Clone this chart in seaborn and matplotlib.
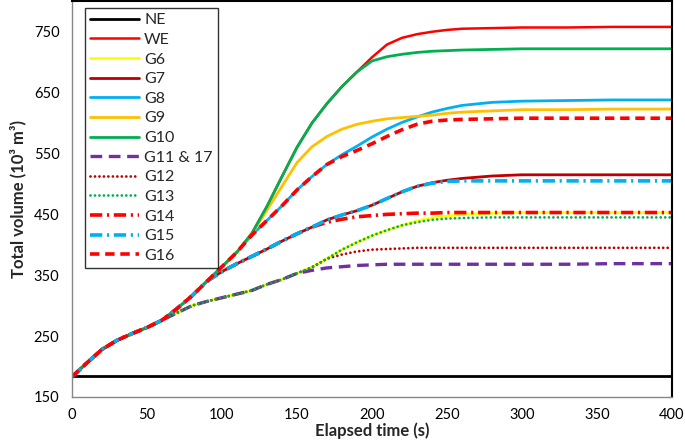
import matplotlib
matplotlib.use("Agg")
import matplotlib.pyplot as plt
from matplotlib.ticker import MultipleLocator, FixedLocator
import seaborn as sns

# elapsed time grid (s)
time_s = [0, 10, 20, 30, 40, 50, 60, 70, 80, 90, 100, 110, 120, 130, 140, 150,
          160, 170, 180, 190, 200, 210, 220, 230, 240, 250, 260, 280, 300, 330, 360, 400]

# total volume (10^3 m^3)
ne = [184, 184, 184, 184, 184, 184, 184, 184, 184, 184, 184, 184, 184, 184, 184, 184,
      184, 184, 184, 184, 184, 184, 184, 184, 184, 184, 184, 184, 184, 184, 184, 184]
we = [183, 206, 228, 243, 254, 264, 276, 295, 316, 340, 364, 388, 419, 463, 512, 560,
      600, 632, 660, 684, 708, 729, 740, 746, 750, 753, 755, 756, 757, 757, 758, 758]
g6 = [183, 206, 228, 243, 254, 264, 276, 288, 300, 307, 313, 319, 325, 335, 343, 353,
      363, 377, 392, 404, 415, 424, 432, 439, 444, 447, 450, 452, 453, 453, 453, 453]
g7 = [183, 206, 228, 243, 254, 264, 276, 295, 316, 340, 356, 369, 381, 393, 406, 418,
      429, 441, 449, 456, 465, 476, 487, 496, 502, 506, 509, 513, 515, 515, 515, 515]
g8 = [183, 206, 228, 243, 254, 264, 276, 295, 316, 340, 364, 388, 416, 440, 464, 490,
      512, 532, 548, 562, 577, 590, 601, 610, 618, 624, 629, 634, 636, 637, 638, 638]
g9 = [183, 206, 228, 243, 254, 264, 276, 295, 316, 340, 364, 388, 418, 457, 496, 535,
      561, 578, 590, 598, 603, 607, 609, 611, 613, 616, 618, 620, 622, 622, 623, 623]
g10 = [183, 206, 228, 243, 254, 264, 276, 295, 316, 340, 364, 388, 419, 463, 512, 560,
       600, 632, 660, 684, 702, 709, 713, 716, 718, 719, 720, 721, 722, 722, 722, 722]
g11 = [183, 206, 228, 243, 254, 264, 276, 288, 300, 307, 313, 319, 325, 335, 343, 353,
       358, 362, 364, 366, 367, 368, 368, 368, 368, 368, 368, 368, 368, 368, 369, 369]
g12 = [183, 206, 228, 243, 254, 264, 276, 288, 300, 307, 313, 319, 325, 335, 343, 353,
       363, 377, 384, 389, 392, 393, 394, 395, 395, 395, 395, 395, 395, 395, 395, 395]
g13 = [183, 206, 228, 243, 254, 264, 276, 288, 300, 307, 313, 319, 325, 335, 343, 353,
       363, 377, 392, 404, 415, 424, 432, 437, 441, 443, 444, 445, 445, 445, 445, 445]
g14 = [183, 206, 228, 243, 254, 264, 276, 295, 316, 340, 356, 369, 381, 393, 406, 418,
       429, 437, 442, 446, 448, 450, 451, 452, 452, 453, 453, 453, 453, 453, 453, 453]
g15 = [183, 206, 228, 243, 254, 264, 276, 295, 316, 340, 356, 369, 381, 393, 406, 418,
       429, 441, 449, 456, 465, 476, 487, 496, 501, 504, 505, 505, 505, 505, 505, 505]
g16 = [183, 206, 228, 243, 254, 264, 276, 295, 316, 340, 364, 388, 416, 440, 464, 490,
       512, 532, 545, 555, 566, 578, 589, 598, 603, 605, 606, 607, 608, 608, 608, 608]

series_names = ["NE", "WE", "G6", "G7", "G8", "G9", "G10", "G11 & 17",
                "G12", "G13", "G14", "G15", "G16"]
series_values = [ne, we, g6, g7, g8, g9, g10, g11, g12, g13, g14, g15, g16]

# colour, width (pt), dash pattern (None = solid), cap style
styles = {
    "NE": ("#000000", 2.0, None, "butt"),
    "WE": ("#ff0000", 1.8, None, "butt"),
    "G6": ("#ffff00", 2.0, None, "butt"),
    "G7": ("#c00000", 2.0, None, "butt"),
    "G8": ("#00b0f0", 2.0, None, "butt"),
    "G9": ("#ffc000", 2.0, None, "butt"),
    "G10": ("#00b050", 2.0, None, "butt"),
    "G11 & 17": ("#7030a0", 2.4, (3.5, 2.0), "butt"),
    "G12": ("#c00000", 2.0, (0.01, 1.6), "round"),
    "G13": ("#00b050", 2.0, (0.01, 1.6), "round"),
    "G14": ("#ff0000", 2.6, (3.4, 1.3, 0.6, 1.3), "butt"),
    "G15": ("#00b0f0", 2.6, (3.4, 1.3, 0.6, 1.3), "butt"),
    "G16": ("#ff0000", 2.6, (2.6, 1.6), "butt"),
}

sns.set_style("white")
plt.rcParams["font.family"] = ["Lato", "DejaVu Sans"]

fig = plt.figure(figsize=(6.85, 4.45), dpi=100)
ax = fig.add_axes([0.105, 0.108, 0.876, 0.889])

for name, vals in zip(series_names, series_values):
    color, lw, dash, cap = styles[name]
    kw = dict(color=color, linewidth=lw, label=name)
    if dash is not None:
        kw["dashes"] = dash
        kw["dash_capstyle"] = cap
    sns.lineplot(x=time_s, y=vals, ax=ax, **kw)

ax.set_xlim(0, 400)
ax.set_ylim(150, 800)
ax.xaxis.set_major_locator(MultipleLocator(50))
ax.xaxis.set_minor_locator(MultipleLocator(10))
ax.yaxis.set_major_locator(FixedLocator([150, 250, 350, 450, 550, 650, 750]))
ax.yaxis.set_minor_locator(MultipleLocator(20))
ax.tick_params(which="both", direction="in", color="#868686", width=0.8,
               labelsize=10.5, labelcolor="#000000")
ax.tick_params(which="major", length=4)
ax.tick_params(which="minor", length=3.5)
ax.tick_params(axis="x", pad=8)
ax.tick_params(axis="y", pad=9)

for side in ["left", "bottom"]:
    ax.spines[side].set_color("#868686")
    ax.spines[side].set_linewidth(1.0)
for side in ["top", "right"]:
    ax.spines[side].set_color("#000000")
    ax.spines[side].set_linewidth(1.5)

ax.set_xlabel("Elapsed time (s)", fontsize=12, fontweight="bold", labelpad=0)
ax.set_ylabel("Total volume (10³ m³)", fontsize=12, fontweight="bold", labelpad=5)

leg = ax.legend(loc="upper left", bbox_to_anchor=(0.022, 0.982), fontsize=11.5,
                frameon=True, fancybox=False, handlelength=3.1, handletextpad=0.3,
                labelspacing=0.34, borderpad=0.3, borderaxespad=0.0)
leg.get_frame().set_edgecolor("#000000")
leg.get_frame().set_linewidth(1.0)

fig.savefig("out.png", dpi=100)
